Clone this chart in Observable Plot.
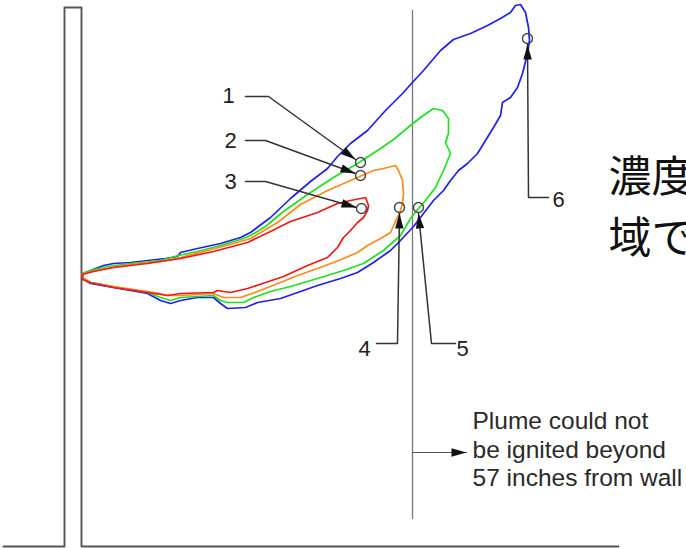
<!DOCTYPE html>
<html>
<head>
<meta charset="utf-8">
<script src="https://cdn.jsdelivr.net/npm/d3@7"></script>
<script src="https://cdn.jsdelivr.net/npm/@observablehq/plot@0.6"></script>
<style>
  html, body { margin: 0; padding: 0; background: #fff; }
  #chart svg { display: block; }
</style>
</head>
<body>
<div id="chart"></div>
<script>
// ---- data (picture coordinates: x to the right, y downward) ----
const bluePlume = [[82,273],[90,270],[103,265],[113,263],[130,262],[147,260],[165,258],[177,256],[180,252],[197,248],[220,243],[240,237],[250,232],[270,217],[290,198],[310,181],[327,168],[337,156],[350,143],[367,130],[385,110],[403,92],[410,84],[423,70],[440,50],[453,39],[470,33],[487,25],[500,18],[510,12],[515,5],[520,4],[525,12],[528,27],[529,40],[527,53],[522,73],[517,87],[510,97],[502,102],[500,115],[493,127],[485,140],[477,153],[467,163],[458,170],[450,180],[443,190],[433,200],[423,213],[413,226],[400,240],[390,250],[373,262],[357,272],[340,278],[317,285],[300,291],[280,298],[257,302],[245,307],[227,308],[220,303],[213,297],[197,297],[180,300],[170,303],[160,300],[147,293],[113,287],[90,283],[82,278],[82,273]];
const greenPlume = [[82,273],[90,270],[107,266],[130,263],[160,260],[178,255],[197,251],[220,245],[240,239],[250,235],[265,226],[283,211],[307,194],[333,177],[357,163],[380,148],[393,139],[410,125],[420,117],[433,108],[442,110],[448,118],[448,133],[445,142],[450,153],[443,170],[435,187],[425,200],[417,209],[410,218],[400,235],[383,250],[363,263],[343,270],[317,278],[290,286],[270,291],[253,297],[243,302],[227,302],[220,300],[213,295],[180,297],[170,300],[160,297],[147,292],[113,286],[90,282],[82,277],[82,273]];
const orangePlume = [[82,273],[100,269],[130,264],[160,261],[180,257],[207,250],[233,243],[250,238],[277,222],[300,204],[327,190],[350,180],[373,170],[383,168],[395,165],[398,170],[402,180],[403,193],[402,203],[399,213],[394,223],[390,232],[380,238],[367,245],[357,252],[343,258],[333,262],[317,268],[297,275],[280,282],[257,291],[240,297],[223,297],[213,293],[180,295],[167,295],[160,293],[147,291],[113,286],[90,282],[82,277],[82,273]];
const redPlume = [[82,274],[93,271],[113,267],[147,263],[180,258],[213,251],[247,242],[270,231],[290,221],[317,212],[337,203],[350,200],[365,197],[368,205],[367,210],[363,217],[357,222],[350,230],[343,237],[337,247],[327,257],[307,265],[283,276],[265,282],[247,288],[230,292],[217,290],[213,292],[180,293],[167,295],[147,292],[113,287],[90,282],[82,279],[82,274]];
const plumeNames = ["blue", "green", "orange", "red"];
const plumeColors = ["#2020ec", "#1fe01f", "#ff8a1a", "#f01818"];

const wallOutline = [[3,546],[64,546],[64,7],[81,7],[81,546],[618,546]];
const limitLine = [[412,10],[412,518]];

const probeIds = [1, 2, 3, 4, 5, 6];
const probeX = [360, 360, 361, 399, 418, 527];
const probeY = [162, 175, 208, 207, 207, 38];

const leaderPaths = [
  [[245,96],[268,96],[355,159]],
  [[245,140],[265,140],[355,173]],
  [[245,181],[265,181],[356,207]],
  [[376,343],[397,343],[399,213]],
  [[455,343],[431,343],[418,213]],
  [[548,197],[528,197],[527,44]]
];
const limitArrow = [[412,452],[466,452]];

const labelText = ["1", "2", "3", "4", "5", "6"];
const labelX = [228, 230, 230, 364, 462, 558];
const labelY = [95, 140, 181, 348, 348, 199];

const noteLines = ["Plume could not", "be ignited beyond", "57 inches from wall"];
const noteX = 472;
const noteBaselines = [428, 457, 485];

const jpLines = ["濃度", "域で"];
const jpX = 608;
const jpBaselines = [191, 252];

// ---- tables built from the arrays ----
const plumeRows = [bluePlume, greenPlume, orangePlume, redPlume].flatMap((pts, i) =>
  pts.map(([x, y]) => ({name: plumeNames[i], color: plumeColors[i], x, y})));
const leaderRows = leaderPaths.flatMap((pts, i) => pts.map(([x, y]) => ({id: i, x, y})));
const arrowTips = [...leaderPaths, limitArrow].map(pts => {
  const [x0, y0] = pts[pts.length - 2], [x1, y1] = pts[pts.length - 1];
  return {x: x1, y: y1, angle: Math.atan2(x1 - x0, -(y1 - y0)) * 180 / Math.PI};
});
const probes = probeIds.map((id, i) => ({id, x: probeX[i], y: probeY[i]}));
const labels = labelText.map((t, i) => ({t, x: labelX[i], y: labelY[i]}));
const notes = noteLines.map((t, i) => ({t, x: noteX, y: noteBaselines[i]}));
const jp = jpLines.map((t, i) => ({t, x: jpX, y: jpBaselines[i]}));

// filled, elongated arrowhead with its tip at the origin, pointing up
const arrowHead = {draw(ctx) { ctx.moveTo(0, 0); ctx.lineTo(-4.2, 15); ctx.lineTo(4.2, 15); ctx.closePath(); }};

const chart = Plot.plot({
  width: 686,
  height: 548,
  margin: 0,
  style: {background: "#fff"},
  x: {domain: [0, 686], range: [0, 686], axis: null},
  y: {domain: [0, 548], range: [0, 548], axis: null},
  marks: [
    Plot.line(wallOutline, {x: d => d[0], y: d => d[1], stroke: "#555", strokeWidth: 1.9, curve: "linear"}),
    Plot.line(limitLine, {x: d => d[0], y: d => d[1], stroke: "#777", strokeWidth: 1.3}),
    Plot.line(plumeRows, {x: "x", y: "y", z: "name", stroke: "color", strokeWidth: 1.7, curve: "linear", strokeLinejoin: "round"}),
    Plot.line(leaderRows, {x: "x", y: "y", z: "id", stroke: "#333", strokeWidth: 1.5}),
    Plot.line(limitArrow, {x: d => d[0], y: d => d[1], stroke: "#555", strokeWidth: 1.1}),
    Plot.dot(arrowTips, {x: "x", y: "y", rotate: "angle", symbol: arrowHead, r: 5, fill: "#111", stroke: "none"}),
    Plot.dot(probes, {x: "x", y: "y", r: 5, stroke: "#444", strokeWidth: 1.4, fill: "none"}),
    Plot.text(labels, {x: "x", y: "y", text: "t", fontSize: 22, fontFamily: "Liberation Sans, Arial, sans-serif", fill: "#222", textAnchor: "middle", lineAnchor: "middle"}),
    Plot.text(notes, {x: "x", y: "y", text: "t", fontSize: 24.5, fontFamily: "Liberation Sans, Arial, sans-serif", fill: "#2a2a2a", textAnchor: "start", lineAnchor: "bottom"}),
    Plot.text(jp, {x: "x", y: "y", text: "t", fontSize: 43, fontFamily: "Noto Sans CJK JP, sans-serif", fill: "#111", textAnchor: "start", lineAnchor: "bottom", ariaLabel: "jp-note"})
  ]
});
// narrow the Japanese glyphs horizontally around their left edge, as in the original
const jpGroup = chart.querySelector('g[aria-label="jp-note"]');
if (jpGroup) jpGroup.setAttribute("transform", `matrix(0.83,0,0,1,${(jpX * 0.17).toFixed(2)},0)`);
document.getElementById("chart").append(chart);
</script>
</body>
</html>
